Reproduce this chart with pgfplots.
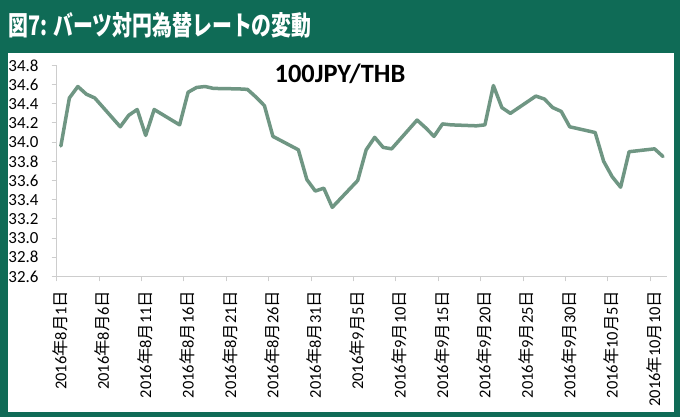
\documentclass[border=0pt]{standalone}
\usepackage{fontspec}
\setmainfont{Carlito}
\newfontfamily\cjk{Noto Sans CJK JP}
\newfontfamily\cjktitle[FakeStretch=0.74]{Noto Sans CJK JP}
\usepackage{pgfplots}
\pgfplotsset{compat=1.18}
\definecolor{framegreen}{RGB}{15,107,86}
\definecolor{linegreen}{RGB}{111,150,131}
\definecolor{axisgray}{RGB}{205,205,205}
\newcommand{\dl}[2]{2016{\cjk 年}#1{\cjk 月}#2{\cjk 日}}
\begin{document}
\begin{tikzpicture}[x=1bp,y=1bp]
\fill[framegreen] (0,0) rectangle (680,417);
\fill[white] (8,5.5) rectangle (674,364);
\node[anchor=west, text=white, inner sep=0pt, font=\cjktitle\bfseries\fontsize{27}{30}\selectfont] at (8,391.5) {図7: バーツ対円為替レートの変動};
\begin{axis}[
  at={(66.8,146.6)}, anchor=south west,
  scale only axis, width=610.6bp, height=211bp,
  xmin=0, xmax=72, ymin=32.6, ymax=34.8,
  axis x line*=bottom, axis y line*=left,
  axis line style={draw=axisgray, line width=1.3bp},
  tick align=outside, major tick length=5bp,
  tick style={draw=axisgray, line width=1bp},
  xtick={0,5,10,15,20,25,30,35,40,45,50,55,60,65,70},
  xticklabels={\dl{8}{1},\dl{8}{6},\dl{8}{11},\dl{8}{16},\dl{8}{21},\dl{8}{26},\dl{8}{31},\dl{9}{5},\dl{9}{10},\dl{9}{15},\dl{9}{20},\dl{9}{25},\dl{9}{30},\dl{10}{5},\dl{10}{10}},
  xticklabel style={xshift=3.5bp, rotate=90, anchor=east, inner xsep=9bp, font=\fontsize{16.5}{18}\selectfont},
  ytick={32.6,32.8,33.0,33.2,33.4,33.6,33.8,34.0,34.2,34.4,34.6,34.8},
  yticklabel style={anchor=east, inner xsep=13bp, font=\fontsize{17}{19}\selectfont,
    /pgf/number format/.cd, fixed, fixed zerofill, precision=1},
  /pgf/number format/assume math mode=true,
  clip=false,
]
\addplot[linegreen, line width=3.5bp, line join=round, line cap=round, mark=none] coordinates {
(0.5,33.96) (1.5,34.46) (2.5,34.58) (3.5,34.50) (4.5,34.46)
(7.5,34.16) (8.5,34.28) (9.5,34.34) (10.5,34.07) (11.5,34.34)
(14.5,34.18) (15.5,34.52) (16.5,34.57) (17.5,34.58) (18.5,34.56)
(21.5,34.555) (22.5,34.55) (23.5,34.47) (24.5,34.38) (25.5,34.06)
(28.5,33.92) (29.5,33.61) (30.5,33.49) (31.5,33.52) (32.5,33.32)
(35.5,33.60) (36.5,33.92) (37.5,34.05) (38.5,33.945) (39.5,33.93)
(42.5,34.23) (43.5,34.15) (44.5,34.06) (45.5,34.19) (46.5,34.18)
(49.5,34.17) (50.5,34.18) (51.5,34.59) (52.5,34.36) (53.5,34.30)
(56.5,34.48) (57.5,34.45) (58.5,34.36) (59.5,34.32) (60.5,34.16)
(63.5,34.10) (64.5,33.80) (65.5,33.64) (66.5,33.53) (67.5,33.90)
(70.5,33.93) (71.5,33.85)
};
\end{axis}
\node[font=\bfseries\fontsize{26.5}{29}\selectfont] at (340,343) {100JPY/THB};
\pgfresetboundingbox
\useasboundingbox (0,0) rectangle (680,417);
\end{tikzpicture}
\end{document}
